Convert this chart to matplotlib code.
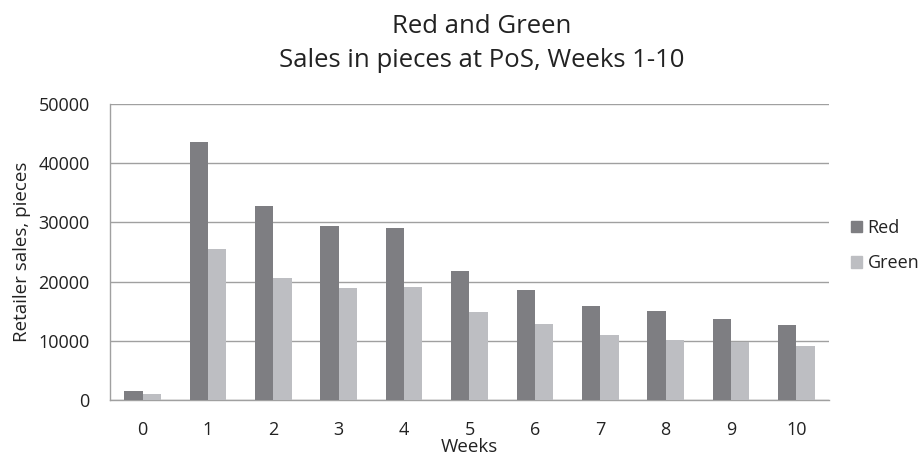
import numpy as np
import matplotlib.pyplot as plt
from matplotlib.patches import Patch

weeks = [0, 1, 2, 3, 4, 5, 6, 7, 8, 9, 10]
red = [1470, 43570, 32790, 29400, 29110, 21780, 18570, 15910, 14960, 13660, 12640]
green = [960, 25560, 20600, 18900, 19130, 14790, 12810, 10900, 10100, 9710, 9140]
yticks = [0, 10000, 20000, 30000, 40000, 50000]

plt.rcParams['font.family'] = ['Open Sans', 'DejaVu Sans']
txt = '#222222'

fig = plt.figure(figsize=(9.21, 4.57), dpi=100)
ax = fig.add_axes([0.1194, 0.1254, 0.7807, 0.6464])

x = np.arange(len(weeks))
w = 0.28
ax.bar(x - w / 2, red, w, color='#7e7e82', label='Red', zorder=3)
ax.bar(x + w / 2, green, w, color='#bdbec2', label='Green', zorder=3)

ax.set_xlim(-0.5, len(weeks) - 0.5)
ax.set_ylim(0, 50000)
ax.set_xticks(x)
ax.set_xticklabels([str(v) for v in weeks], fontsize=13, color=txt)
ax.set_yticks(yticks)
ax.set_yticklabels([str(v) for v in yticks], fontsize=13, color=txt)
ax.tick_params(axis='y', length=0, pad=14.5)
ax.tick_params(axis='x', length=0, pad=15)
ax.yaxis.grid(True, color='#a0a0a0', linewidth=1, zorder=0)

for s in ['top', 'right']:
    ax.spines[s].set_visible(False)
for s in ['left', 'bottom']:
    ax.spines[s].set_color('#a0a0a0')
    ax.spines[s].set_linewidth(1)

# axis titles placed by hand
ax.set_xlabel('Weeks', fontsize=13.5, color=txt)
ax.xaxis.set_label_coords(0.5, -0.178)
ax.xaxis.label.set_verticalalignment('baseline')
ax.set_ylabel('Retailer sales, pieces', fontsize=13.5, color=txt)
ax.yaxis.set_label_coords(-0.123, 0.5)
ax.yaxis.label.set_verticalalignment('center')

fig.text(0.5233, 0.9278, 'Red and Green', ha='center', va='baseline', fontsize=18.5, color=txt)
fig.text(0.5233, 0.8534, 'Sales in pieces at PoS, Weeks 1-10', ha='center', va='baseline',
         fontsize=18.5, color=txt)

handles = [Patch(color='#7e7e82'), Patch(color='#bdbec2')]
fig.legend(handles, ['Red', 'Green'], loc='center left', bbox_to_anchor=(0.9237, 0.4628),
           frameon=False, fontsize=13, handlelength=0.61, handleheight=0.61,
           handletextpad=0.33, labelspacing=0.95, borderpad=0, borderaxespad=0,
           labelcolor=txt)

fig.savefig('out.png', dpi=100)
